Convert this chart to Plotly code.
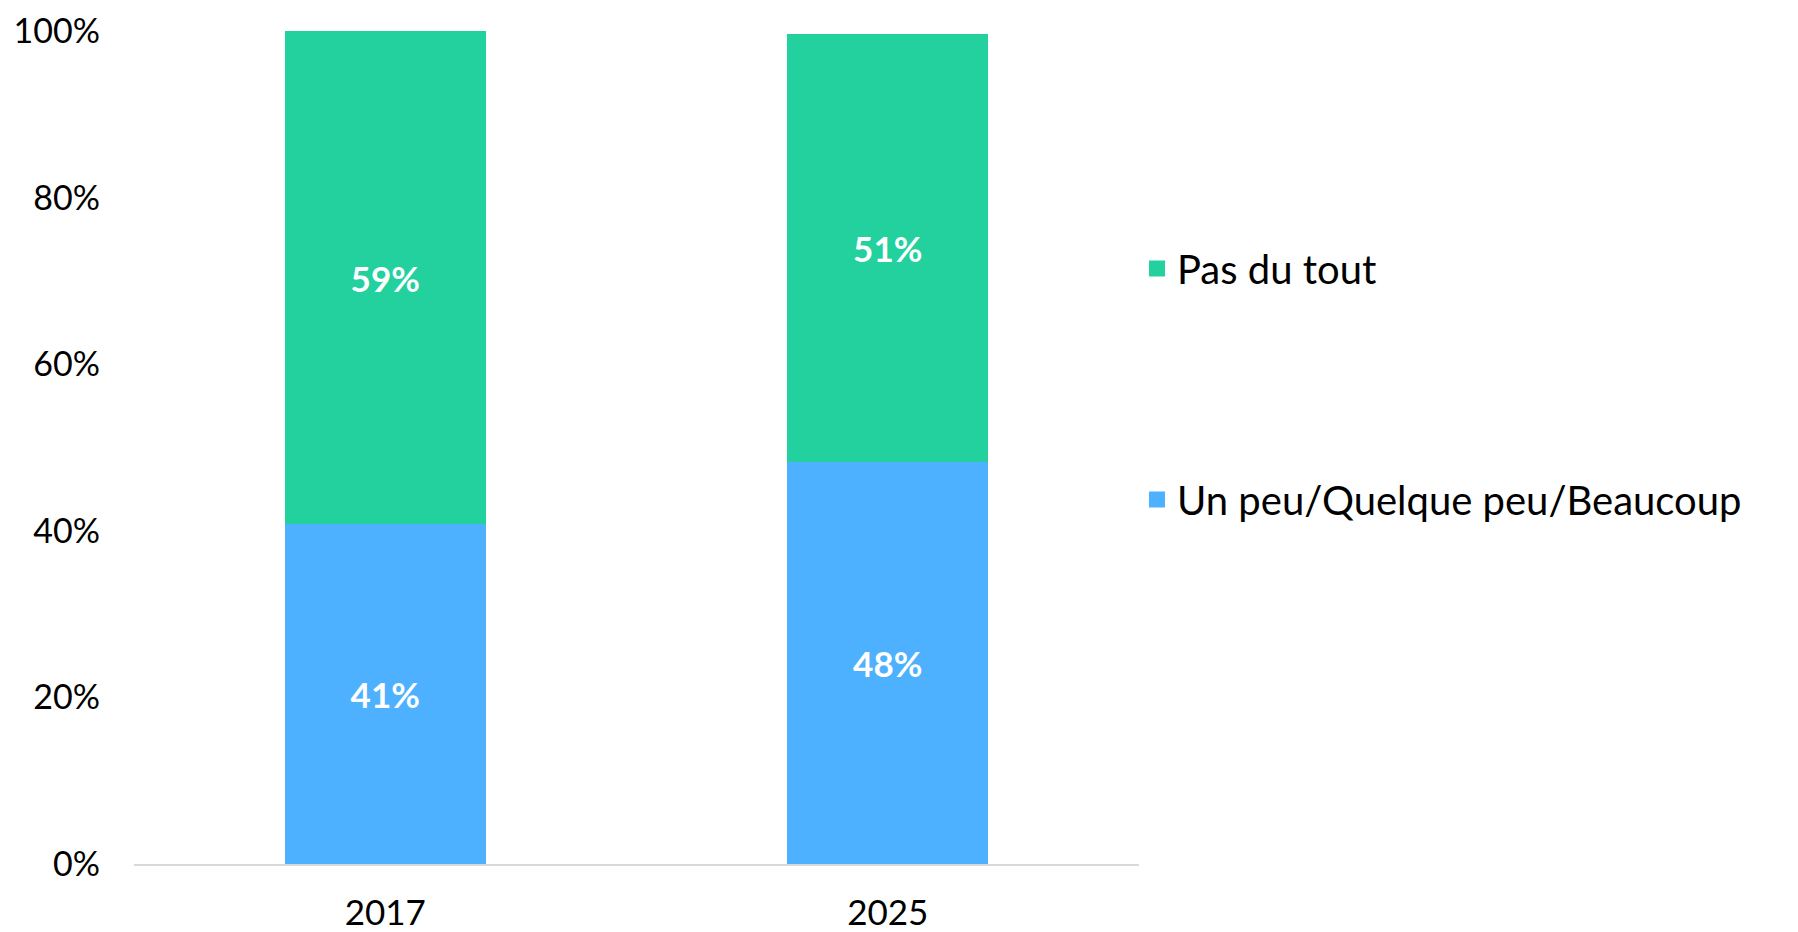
import plotly.graph_objects as go

years = ["2017", "2025"]
series_names = ["Un peu/Quelque peu/Beaucoup", "Pas du tout"]
un_peu = [40.8, 48.2]
pas_du_tout = [59.2, 51.4]
y_ticks = [0, 20, 40, 60, 80, 100]
y_tick_labels = ["0%", "20%", "40%", "60%", "80%", "100%"]

colors = {"Un peu/Quelque peu/Beaucoup": "#4DB1FF", "Pas du tout": "#23D19F"}
legend_rank = {"Un peu/Quelque peu/Beaucoup": 2, "Pas du tout": 1}
FONT = "Lato, 'Noto Sans', sans-serif"

fig = go.Figure()
for name, vals, grp in [(series_names[0], un_peu, "a"), (series_names[1], pas_du_tout, "b")]:
    fig.add_trace(go.Bar(
        x=years, y=vals, name=name, legendgroup=grp, showlegend=False,
        marker=dict(color=colors[name], line=dict(width=0)),
        texttemplate="%{y:.0f}%", textposition="inside", insidetextanchor="middle",
        textfont=dict(color="white", size=35, family=FONT, weight="bold"),
    ))
    # legend entry with a square swatch
    fig.add_trace(go.Scatter(
        x=[None], y=[None], mode="markers", name=name, legendgroup=grp,
        legendrank=legend_rank[name],
        marker=dict(symbol="square", size=16, color=colors[name]),
        showlegend=True,
    ))

fig.update_layout(
    width=1798, height=932,
    barmode="stack", bargap=0.6,
    plot_bgcolor="white", paper_bgcolor="white",
    margin=dict(l=126, r=667, t=23, b=76, autoexpand=False),
    font=dict(family=FONT, size=35, color="#000000"),
    uniformtext=dict(minsize=10, mode="show"),
    showlegend=True,
    legend=dict(x=0.998, y=1 - 228 / 932, yref="container",
                xanchor="left", yanchor="top",
                traceorder="grouped", tracegroupgap=176,
                font=dict(size=40, family=FONT, color="#000"),
                itemwidth=30, itemsizing="trace", bgcolor="rgba(0,0,0,0)"),
)

fig.update_xaxes(showgrid=False, showline=True, linecolor="#D9D9D9", linewidth=2,
                 ticks="", tickfont=dict(size=35), automargin=False,
                 ticklabelstandoff=17)
fig.update_yaxes(range=[0, 100], tickmode="array", tickvals=y_ticks, ticktext=y_tick_labels,
                 showgrid=False, zeroline=False, showline=False, ticks="",
                 tickfont=dict(size=34), automargin=False, ticklabelstandoff=33,
                 ticklabeloverflow="allow")

fig.write_html("out.html")
